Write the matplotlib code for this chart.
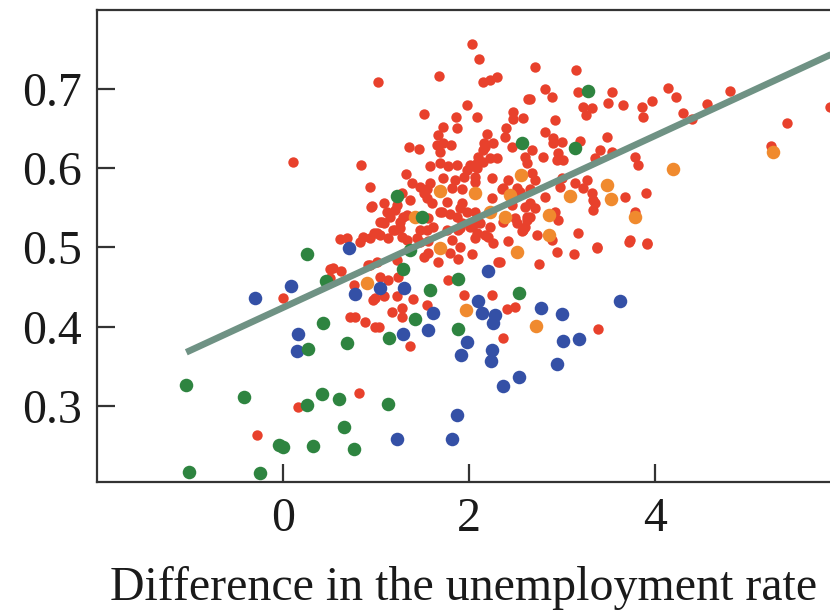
import matplotlib
matplotlib.use("Agg")
import matplotlib.pyplot as plt
import numpy as np

# ---------------- data ----------------
red_x = [0.11, 1.02, -0.28, 0.16, 0.82, 0.00, 0.61, 0.83, 0.94, 0.98, 0.95, 0.51, 0.62, 0.76, 0.94, 0.97, 0.77, 0.88, 0.99,
         2.03, 2.11, 1.68, 2.15, 2.23, 2.30, 1.98, 1.51, 1.86, 2.08, 2.47, 2.47, 2.58, 2.63, 1.87, 1.72, 1.67, 1.72, 1.81, 1.66,
         1.69, 1.35, 1.46, 2.19, 2.16, 2.26, 2.40, 2.39, 2.46, 2.60, 2.15, 0.84, 0.94, 0.96, 1.32, 1.58, 1.69, 1.77, 1.87, 1.98,
         2.09, 2.15, 2.23, 2.30, 2.06, 2.25, 2.42, 1.39, 1.47, 1.58, 1.72, 1.85, 1.92, 1.82, 1.28, 1.37, 1.55, 1.60, 1.92, 1.71,
         1.80, 1.98, 1.08, 1.12, 1.20, 1.04, 1.26, 1.33, 1.92, 2.04, 2.46, 2.52, 2.62, 2.52,
         1.94, 1.55, 1.23, 1.29, 1.26, 1.87, 1.90, 1.76, 1.55, 1.76, 2.04,
         1.08, 1.04, 1.13, 1.20, 1.28, 1.44, 1.56, 1.47, 1.61, 1.82, 1.88, 2.01, 2.06, 2.17, 2.26, 2.42, 2.57, 2.37, 0.54, 0.51,
         0.72, 0.91, 1.01, 1.04, 1.13, 0.99, 1.08, 1.23, 1.24, 1.23, 1.40, 1.17, 1.28, 1.28, 1.03, 1.37, 1.55, 1.56, 1.67, 1.88,
         2.03, 2.31, 1.77, 1.94, 2.25, 2.41, 2.49, 2.37,
         2.33, 2.75, 2.95, 3.13, 3.37, 3.72, 3.91, 3.39, 2.89,
         2.71, 3.15, 2.82, 2.89, 2.65, 3.17, 3.54, 3.49, 3.65, 3.23, 3.32, 3.26, 3.86, 3.87, 3.97, 4.14, 4.22, 4.56, 4.30, 4.40,
         2.92, 2.82, 2.90, 3.00, 3.48, 3.19, 2.68, 2.80, 2.96, 3.01, 3.41, 3.35, 3.54, 3.78, 3.82, 2.62, 2.71, 3.00, 3.14, 3.27,
         3.22, 3.32, 3.35, 3.33, 2.98, 2.82, 2.66, 2.66, 2.92, 2.60, 3.68, 3.90, 3.78, 3.17, 3.38, 3.73, 3.91,
         4.81, 5.42, 5.25, 5.88,
         2.10, 2.01, 2.09, 2.90, 2.06, 2.66, 2.55, 3.33, 2.25, 2.37, 2.60, 2.71, 2.06, 2.49, 2.62, 2.58, 2.73, 2.96, 2.09, 2.20, 2.23,
         1.51, 1.15, 1.18, 1.01, 0.86, 0.69, 1.69, 1.56, 1.33, 1.47, 1.90, 1.90, 1.80, 1.51, 1.06,
         2.35, 2.68, 2.12, 2.95, 2.17]
red_y = [0.608, 0.709, 0.263, 0.299, 0.316, 0.436, 0.511, 0.507, 0.512, 0.518, 0.551, 0.473, 0.470, 0.453, 0.478, 0.434, 0.412, 0.406, 0.400,
         0.757, 0.737, 0.716, 0.708, 0.711, 0.715, 0.680, 0.668, 0.665, 0.665, 0.671, 0.662, 0.663, 0.687, 0.650, 0.652, 0.642, 0.632, 0.629, 0.629,
         0.620, 0.627, 0.624, 0.643, 0.632, 0.632, 0.650, 0.639, 0.627, 0.614, 0.623, 0.604, 0.576, 0.552, 0.593, 0.602, 0.607, 0.603, 0.604, 0.598,
         0.607, 0.608, 0.613, 0.613, 0.589, 0.588, 0.585, 0.581, 0.576, 0.581, 0.588, 0.585, 0.573, 0.575, 0.569, 0.560, 0.562, 0.556, 0.556, 0.545,
         0.542, 0.545, 0.556, 0.545, 0.547, 0.532, 0.532, 0.541, 0.531, 0.528, 0.554, 0.575, 0.538, 0.531,
         0.589, 0.573, 0.554, 0.538, 0.525, 0.538, 0.525, 0.522, 0.522, 0.557, 0.602,
         0.531, 0.516, 0.512, 0.522, 0.513, 0.512, 0.508, 0.522, 0.526, 0.509, 0.522, 0.526, 0.512, 0.516, 0.506, 0.508, 0.520, 0.532, 0.474, 0.461,
         0.412, 0.478, 0.482, 0.463, 0.459, 0.436, 0.438, 0.438, 0.463, 0.484, 0.435, 0.419, 0.424, 0.412, 0.400, 0.376, 0.427, 0.493, 0.482, 0.485,
         0.492, 0.482, 0.459, 0.440, 0.440, 0.422, 0.425, 0.386,
         0.482, 0.479, 0.494, 0.491, 0.499, 0.507, 0.504, 0.397, 0.509,
         0.728, 0.724, 0.700, 0.690, 0.687, 0.696, 0.696, 0.682, 0.680, 0.677, 0.676, 0.667, 0.677, 0.665, 0.684, 0.701, 0.690, 0.681, 0.670, 0.662,
         0.661, 0.645, 0.638, 0.633, 0.639, 0.634, 0.623, 0.614, 0.619, 0.610, 0.623, 0.613, 0.620, 0.614, 0.604, 0.607, 0.585, 0.588, 0.581, 0.585,
         0.575, 0.569, 0.556, 0.547, 0.576, 0.564, 0.556, 0.538, 0.544, 0.526, 0.564, 0.569, 0.545, 0.518, 0.501, 0.509, 0.506,
         0.697, 0.657, 0.628, 0.677,
         0.614, 0.604, 0.600, 0.632, 0.583, 0.573, 0.570, 0.560, 0.562, 0.575, 0.551, 0.550, 0.544, 0.537, 0.535, 0.522, 0.516, 0.535, 0.518, 0.513, 0.526,
         0.569, 0.538, 0.522, 0.518, 0.513, 0.512, 0.545, 0.537, 0.509, 0.507, 0.550, 0.501, 0.493, 0.488, 0.532,
         0.573, 0.594, 0.531, 0.610, 0.627]

orange_x = [0.90, 1.69, 1.97, 2.52, 2.72, 1.69, 2.06, 2.56, 2.44, 2.22, 1.42, 2.39, 3.09, 2.86, 2.86, 4.19, 3.48, 3.53, 3.78, 5.27]
orange_y = [0.455, 0.499, 0.421, 0.494, 0.401, 0.571, 0.569, 0.591, 0.566, 0.545, 0.538, 0.538, 0.565, 0.541, 0.516, 0.599, 0.579, 0.561, 0.538, 0.620]

blue_x = [-0.30, 0.09, 0.71, 0.77, 0.16, 0.15, 1.04, 1.30, 1.61, 1.56, 1.29, 2.20, 2.10, 2.14, 2.28, 2.26, 1.98, 1.91, 2.25, 2.24,
          2.37, 2.54, 1.87, 1.82, 1.23, 2.77, 3.00, 3.01, 3.18, 2.94, 3.62]
blue_y = [0.436, 0.451, 0.499, 0.441, 0.391, 0.369, 0.449, 0.449, 0.417, 0.396, 0.391, 0.470, 0.432, 0.417, 0.415, 0.405, 0.381, 0.364, 0.371, 0.356,
          0.325, 0.337, 0.289, 0.258, 0.258, 0.424, 0.416, 0.382, 0.384, 0.353, 0.432]

green_x = [-1.04, -0.42, -1.01, -0.25, -0.04, 0.00, 0.26, 0.32, 0.42, 0.60, 0.66, 0.76, 0.26, 0.46, 0.43, 0.27, 0.69, 1.13, 1.14, 1.29,
           1.42, 1.58, 1.88, 1.88, 2.54, 1.37, 1.22, 1.49, 2.57, 3.28, 3.14]
green_y = [0.326, 0.311, 0.217, 0.215, 0.251, 0.248, 0.301, 0.249, 0.315, 0.309, 0.273, 0.246, 0.492, 0.458, 0.405, 0.372, 0.379, 0.302, 0.386, 0.473,
           0.410, 0.446, 0.460, 0.397, 0.443, 0.497, 0.565, 0.538, 0.632, 0.697, 0.625]

fit_x = [-1.04, 6.2]
fit_intercept = 0.424
fit_slope = 0.0542

x_ticks = [0, 2, 4]
y_ticks = [0.3, 0.4, 0.5, 0.6, 0.7]
x_label = "Difference in the unemployment rate"

# ---------------- plot ----------------
plt.rcParams['font.family'] = ['Liberation Serif', 'DejaVu Serif']

fig = plt.figure(figsize=(8.30, 6.13), dpi=100)
ax = fig.add_axes([97/830, (613-482)/613, (830-97)/830, (482-9.5)/613])

ax.scatter(red_x, red_y, s=56, color='#e8412c', linewidths=0, zorder=2)
ax.scatter(orange_x, orange_y, s=95, color='#f08a2e', linewidths=0, zorder=3)
ax.scatter(blue_x, blue_y, s=95, color='#3450a6', linewidths=0, zorder=4)
ax.scatter(green_x, green_y, s=95, color='#2e8440', linewidths=0, zorder=5)

fx = np.array(fit_x)
ax.plot(fx, fit_intercept + fit_slope * fx, color='#6f9284', lw=4.8, solid_capstyle='butt', zorder=6)

ax.set_xlim(-2.0, 5.88)
ax.set_ylim(0.204, 0.800)
ax.set_xticks(x_ticks)
ax.set_xticklabels([str(v) for v in x_ticks])
ax.set_yticks(y_ticks)
ax.set_yticklabels([f"{v:.1f}" for v in y_ticks])

ax.spines['right'].set_visible(False)
for sp in ['left', 'bottom', 'top']:
    ax.spines[sp].set_linewidth(1.6)
    ax.spines[sp].set_color('#333333')

ax.tick_params(axis='both', direction='in', length=13, width=1.6, color='#333333',
               labelsize=34.5, labelcolor='#1a1a1a')
ax.tick_params(axis='y', pad=11)
ax.tick_params(axis='x', pad=11)
ax.set_xlabel(x_label, fontsize=34.5, color='#1a1a1a', labelpad=18)

fig.savefig("out.png", dpi=100)
